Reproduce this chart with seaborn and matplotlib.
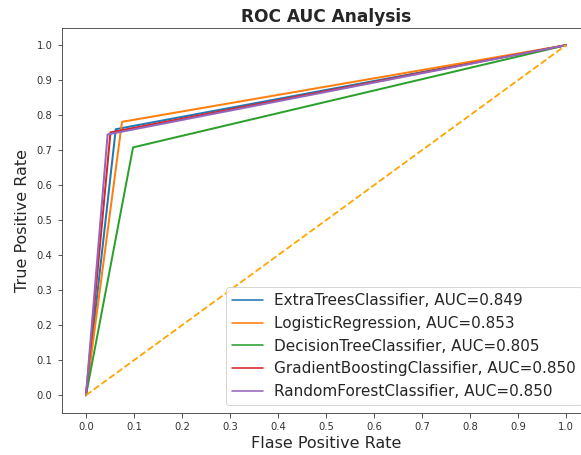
import matplotlib
matplotlib.use("Agg")
import matplotlib.pyplot as plt
import seaborn as sns
import pandas as pd

models = ["ExtraTreesClassifier", "LogisticRegression", "DecisionTreeClassifier",
          "GradientBoostingClassifier", "RandomForestClassifier"]
fpr_mid = [0.062, 0.075, 0.098, 0.051, 0.045]
tpr_mid = [0.760, 0.781, 0.708, 0.751, 0.745]
aucs = [0.849, 0.853, 0.805, 0.850, 0.850]
colors = ["#1f77b4", "#ff7f0e", "#2ca02c", "#d62728", "#9467bd"]
ticks = [0.0, 0.1, 0.2, 0.3, 0.4, 0.5, 0.6, 0.7, 0.8, 0.9, 1.0]

sns.set_style("ticks")
plt.rcParams["font.family"] = ["DejaVu Sans"]

W, H = 581, 455
fig = plt.figure(figsize=(W / 72, H / 72), dpi=72)
# axes: left spine x=62, right spine ~590 (clipped), top y=27.7, bottom y=412.7
ax = fig.add_axes([62 / W, 1 - 412.7 / H, (590 - 62) / W, (412.7 - 27.7) / H])

for m, f, t, a, c in zip(models, fpr_mid, tpr_mid, aucs, colors):
    df = pd.DataFrame({"fpr": [0.0, f, 1.0], "tpr": [0.0, t, 1.0]})
    sns.lineplot(data=df, x="fpr", y="tpr", ax=ax, color=c, linewidth=2.0,
                 estimator=None, sort=False, label=f"{m}, AUC={a:.3f}")

diag = pd.DataFrame({"x": [0.0, 1.0], "y": [0.0, 1.0]})
sns.lineplot(data=diag, x="x", y="y", ax=ax, color="orange", linestyle="--",
             linewidth=1.8, estimator=None, sort=False)

ax.set_xlim(-0.05, 1.05)
ax.set_ylim(-0.05, 1.05)
ax.set_xticks(ticks)
ax.set_yticks(ticks)
ax.set_xticklabels([f"{v:.1f}" for v in ticks])
ax.set_yticklabels([f"{v:.1f}" for v in ticks])
ax.tick_params(labelsize=10, length=4.5, pad=5, colors="#333333")
for s in ax.spines.values():
    s.set_visible(True)
    s.set_color("#333333")
ax.set_xlabel("Flase Positive Rate", fontsize=16)
ax.set_ylabel("True Positive Rate", fontsize=16, labelpad=7)
ax.set_title("ROC AUC Analysis", fontweight="bold", fontsize=17)
leg = ax.legend(prop={"size": 15.3}, loc="lower right", handletextpad=0.75)
for ln in leg.get_lines():
    ln.set_linewidth(1.6)

fig.savefig("out.png", dpi=72)
